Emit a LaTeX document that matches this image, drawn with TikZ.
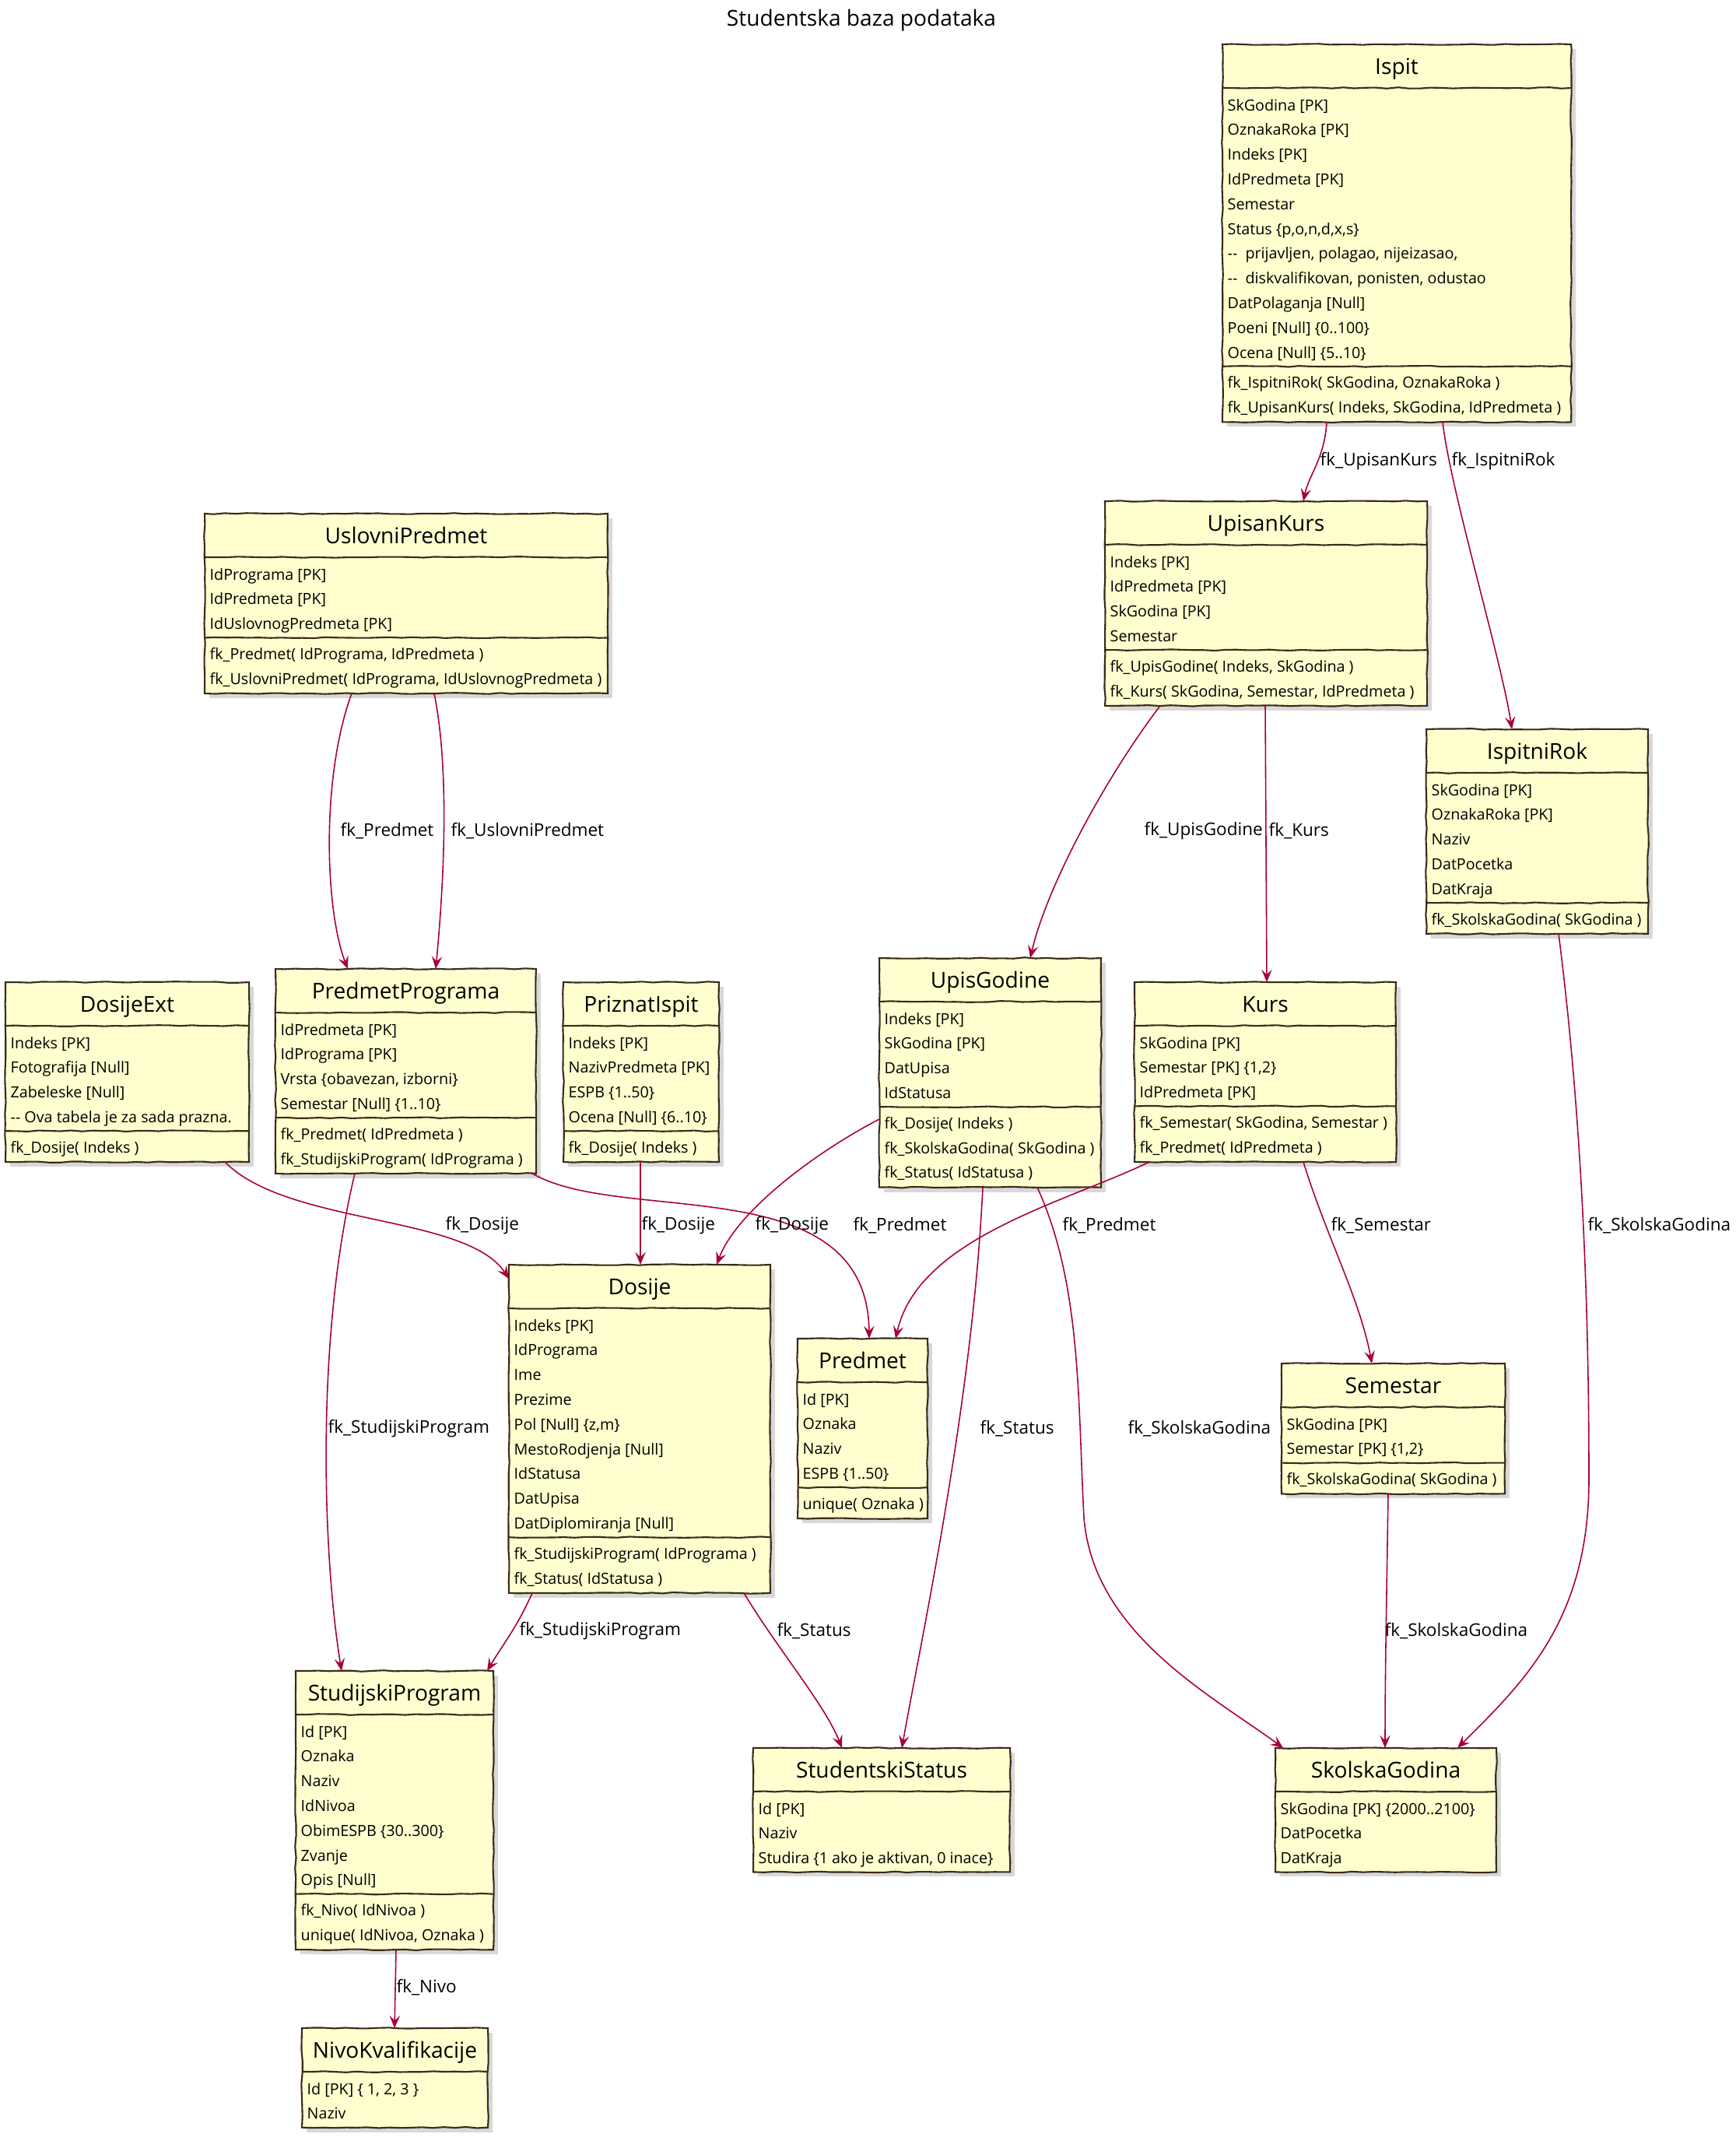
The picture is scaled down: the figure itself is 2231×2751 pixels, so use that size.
\documentclass[tikz,border=0pt]{standalone}
\usepackage{fontspec}
\setmainfont{Open Sans}
\usetikzlibrary{arrows.meta,calc,decorations.pathmorphing}
\definecolor{boxfill}{HTML}{FEFECE}
\definecolor{boxdraw}{HTML}{3A2A1C}
\definecolor{fkc}{HTML}{A80036}
\newcommand\fTitle{\fontsize{8}{9.6}\selectfont}
\newcommand\fField{\fontsize{5.6}{6.7}\selectfont}
\newcommand\fLabel{\fontsize{6.4}{7.7}\selectfont}
\tikzset{
  sketchy/.style={decorate,decoration={random steps,segment length=4pt,amplitude=0.22pt}},
  tbox/.style={draw=boxdraw,fill=boxfill,line width=0.6pt,inner sep=0pt,outer sep=0pt,sketchy},
  tline/.style={draw=boxdraw,line width=0.6pt,sketchy},
  shadowc/.style={fill=black!22,opacity=0.7},
  ttitle/.style={anchor=base,inner sep=0pt,font=\fTitle},
  tfield/.style={anchor=base west,inner sep=0pt,font=\fField},
  fkline/.style={draw=fkc,line width=0.45pt,-{Stealth[length=4.6pt,width=3.8pt,inset=1.8pt]}},
  fklbl/.style={anchor=west,inner sep=0pt,font=\fLabel},
}
% #1 name, #2 left, #3 top, #4 right, #5 nfields, #6 nmethods, #7 title, #8 fields, #9 methods
\newcommand\dbtable[9]{%
  \pgfmathsetmacro\tH{#3+56}%
  \pgfmathsetmacro\tS{\tH+8+#5*31.8}%
  \pgfmathsetmacro\tB{ifthenelse(#6>0,\tS+8+#6*31.8,\tS)}%
  \pgfmathsetmacro\tW{(#4-#2)*0.01}%
  \pgfmathsetmacro\tHt{(\tB-#3)*0.01}%
  \fill[shadowc] (#2+6,#3+6) rectangle (#4+6,\tB+6);
  \node[tbox,minimum width=\tW cm,minimum height=\tHt cm,anchor=north west] (#1) at (#2,#3) {};
  \node[ttitle] (#1-t) at ({(#2+#4)/2},#3+38) {#7};
  \draw[tline] (#2,\tH) -- (#4,\tH);
  \foreach \f [count=\i] in {#8} {\node[tfield] (#1-f\i) at (#2+6,\tH+29+\i*31.8-31.8) {\f};}
  \ifnum#6>0
    \draw[tline] (#2,\tS) -- (#4,\tS);
    \foreach \m [count=\i] in {#9} {\node[tfield] (#1-m\i) at (#2+6,\tS+28+\i*31.8-31.8) {\m};}
  \fi
}
\begin{document}
\begin{tikzpicture}[x=0.01cm,y=-0.01cm]
\pgfmathsetseed{7}
\useasboundingbox (0,0) rectangle (2231,2751);
\node[ttitle] (title) at (1107,33) {Studentska baza podataka};

\dbtable{ispit}{1571}{57}{2019}{11}{2}{Ispit}
 {{SkGodina [PK]},{OznakaRoka [PK]},{Indeks [PK]},{IdPredmeta [PK]},{Semestar},{Status \{p,o,n,d,x,s\}},{{-}{-}\ \ prijavljen, polagao, nijeizasao,},{{-}{-}\ \ diskvalifikovan, ponisten, odustao},{DatPolaganja [Null]},{Poeni [Null] \{0..100\}},{Ocena [Null] \{5..10\}}}
 {{fk\_IspitniRok( SkGodina, OznakaRoka )},{fk\_UpisanKurs( Indeks, SkGodina, IdPredmeta )}}

\dbtable{upk}{1420}{644}{1834}{4}{2}{UpisanKurs}
 {{Indeks [PK]},{IdPredmeta [PK]},{SkGodina [PK]},{Semestar}}
 {{fk\_UpisGodine( Indeks, SkGodina )},{fk\_Kurs( SkGodina, Semestar, IdPredmeta )}}

\dbtable{irok}{1833}{937}{2118}{5}{1}{IspitniRok}
 {{SkGodina [PK]},{OznakaRoka [PK]},{Naziv},{DatPocetka},{DatKraja}}
 {{fk\_SkolskaGodina( SkGodina )}}

\dbtable{uslov}{263}{660}{781}{3}{2}{UslovniPredmet}
 {{IdPrograma [PK]},{IdPredmeta [PK]},{IdUslovnogPredmeta [PK]}}
 {{fk\_Predmet( IdPrograma, IdPredmeta )},{fk\_UslovniPredmet( IdPrograma, IdUslovnogPredmeta )}}

\dbtable{dext}{7}{1262}{320}{4}{1}{DosijeExt}
 {{Indeks [PK]},{Fotografija [Null]},{Zabeleske [Null]},{{-}{-} Ova tabela je za sada prazna.}}
 {{fk\_Dosije( Indeks )}}

\dbtable{pprog}{354}{1245}{689}{4}{2}{PredmetPrograma}
 {{IdPredmeta [PK]},{IdPrograma [PK]},{Vrsta \{obavezan, izborni\}},{Semestar [Null] \{1..10\}}}
 {{fk\_Predmet( IdPredmeta )},{fk\_StudijskiProgram( IdPrograma )}}

\dbtable{priz}{724}{1262}{924}{4}{1}{PriznatIspit}
 {{Indeks [PK]},{NazivPredmeta [PK]},{ESPB \{1..50\}},{Ocena [Null] \{6..10\}}}
 {{fk\_Dosije( Indeks )}}

\dbtable{upg}{1130}{1231}{1415}{4}{3}{UpisGodine}
 {{Indeks [PK]},{SkGodina [PK]},{DatUpisa},{IdStatusa}}
 {{fk\_Dosije( Indeks )},{fk\_SkolskaGodina( SkGodina )},{fk\_Status( IdStatusa )}}

\dbtable{kurs}{1458}{1262}{1794}{3}{2}{Kurs}
 {{SkGodina [PK]},{Semestar [PK] \{1,2\}},{IdPredmeta [PK]}}
 {{fk\_Semestar( SkGodina, Semestar )},{fk\_Predmet( IdPredmeta )}}

\dbtable{dos}{654}{1625}{990}{9}{2}{Dosije}
 {{Indeks [PK]},{IdPrograma},{Ime},{Prezime},{Pol [Null] \{z,m\}},{MestoRodjenja [Null]},{IdStatusa},{DatUpisa},{DatDiplomiranja [Null]}}
 {{fk\_StudijskiProgram( IdPrograma )},{fk\_Status( IdStatusa )}}

\dbtable{pred}{1025}{1720}{1192}{4}{1}{Predmet}
 {{Id [PK]},{Oznaka},{Naziv},{ESPB \{1..50\}}}
 {{unique( Oznaka )}}

\dbtable{sem}{1647}{1752}{1934}{2}{1}{Semestar}
 {{SkGodina [PK]},{Semestar [PK] \{1,2\}}}
 {{fk\_SkolskaGodina( SkGodina )}}

\dbtable{sprog}{380}{2147}{634}{7}{2}{StudijskiProgram}
 {{Id [PK]},{Oznaka},{Naziv},{IdNivoa},{ObimESPB \{30..300\}},{Zvanje},{Opis [Null]}}
 {{fk\_Nivo( IdNivoa )},{unique( IdNivoa, Oznaka )}}

\dbtable{nivo}{388}{2606}{627}{2}{0}{NivoKvalifikacije}
 {{Id [PK] \{ 1, 2, 3 \}},{Naziv}}
 {}

\dbtable{sstat}{968}{2246}{1298}{3}{0}{StudentskiStatus}
 {{Id [PK]},{Naziv},{Studira \{1 ako je aktivan, 0 inace\}}}
 {}

\dbtable{skg}{1639}{2246}{1923}{3}{0}{SkolskaGodina}
 {{SkGodina [PK] \{2000..2100\}},{DatPocetka},{DatKraja}}
 {}

% connectors
\draw[fkline] ($(ispit.south west)+(134,0)$) .. controls (1702,590) and (1682,610) .. ($(upk.north west)+(255,0)$);
\draw[fkline] ($(ispit.south west)+(283,0)$) .. controls (1864,630) and (1930,850) .. ($(irok.north west)+(110,0)$);
\draw[fkline] ($(uslov.south west)+(189,0)$) .. controls (412,1000) and (418,1170) .. ($(pprog.north west)+(93,0)$);
\draw[fkline] ($(uslov.south west)+(295,0)$) .. controls (580,1000) and (568,1160) .. ($(pprog.north west)+(206,0)$);
\draw[fkline] ($(upk.south west)+(71,0)$) .. controls (1420,1000) and (1345,1140) .. ($(upg.north west)+(194,0)$);
\draw[fkline] ($(upk.south west)+(206,0)$) -- ($(kurs.north west)+(170,0)$);
\draw[fkline] ($(irok.south west)+(170,0)$) .. controls (2035,1450) and (2042,1700) .. (2042,1900) .. controls (2042,2080) and (1960,2160) .. ($(skg.north west)+(234,0)$);
\draw[fkline] ($(dext.south west)+(282,0)$) .. controls (370,1575) and (600,1560) .. ($(dos.north west)+(0,18)$);
\draw[fkline] ($(pprog.south west)+(102,0)$) .. controls (405,1720) and (415,2000) .. ($(sprog.north west)+(59,0)$);
\draw[fkline] ($(pprog.south west)+(330,0)$) .. controls (800,1575) and (1115,1500) .. ($(pred.north west)+(92,0)$);
\draw[fkline] ($(priz.south west)+(99,0)$) -- ($(dos.north west)+(169,0)$);
\draw[fkline] ($(upg.north west)+(0,207)$) .. controls (1040,1485) and (945,1560) .. ($(dos.north west)+(267,0)$);
\draw[fkline] ($(kurs.south west)+(19,0)$) .. controls (1370,1545) and (1180,1590) .. ($(pred.north west)+(126,0)$);
\draw[fkline] ($(kurs.south west)+(217,0)$) .. controls (1705,1590) and (1748,1670) .. ($(sem.north west)+(116,0)$);
\draw[fkline] ($(upg.south west)+(133,0)$) .. controls (1250,1800) and (1185,2100) .. ($(sstat.north west)+(191,0)$);
\draw[fkline] ($(upg.south west)+(203,0)$) .. controls (1390,1650) and (1385,1800) .. (1393,1950) .. controls (1405,2100) and (1560,2180) .. ($(skg.north west)+(10,0)$);
\draw[fkline] ($(sem.south west)+(137,0)$) .. controls (1782,2050) and (1780,2150) .. ($(skg.north west)+(141,0)$);
\draw[fkline] ($(dos.south west)+(30,0)$) .. controls (665,2090) and (645,2115) .. ($(sprog.north west)+(246,0)$);
\draw[fkline] ($(dos.south west)+(302,0)$) .. controls (1000,2120) and (1060,2190) .. ($(sstat.north west)+(114,0)$);
\draw[fkline] ($(sprog.south west)+(129,0)$) -- ($(nivo.north west)+(119,0)$);

% labels
\node[fklbl] (l1) at (1696,593) {fk\_UpisanKurs};
\node[fklbl] (l2) at (1865,593) {fk\_IspitniRok};
\node[fklbl] (l3) at (437,1068) {fk\_Predmet};
\node[fklbl] (l4) at (579,1068) {fk\_UslovniPredmet};
\node[fklbl] (l5) at (1470,1068) {fk\_UpisGodine};
\node[fklbl] (l6) at (1630,1068) {fk\_Kurs};
\node[fklbl] (l7) at (2040,1575) {fk\_SkolskaGodina};
\node[fklbl] (l8) at (572,1575) {fk\_Dosije};
\node[fklbl] (l9) at (421,1836) {fk\_StudijskiProgram};
\node[fklbl] (l10) at (1096,1575) {fk\_Predmet};
\node[fklbl] (l11) at (824,1575) {fk\_Dosije};
\node[fklbl] (l12) at (970,1575) {fk\_Dosije};
\node[fklbl] (l13) at (1365,1575) {fk\_Predmet};
\node[fklbl] (l14) at (1710,1575) {fk\_Semestar};
\node[fklbl] (l15) at (1259,1836) {fk\_Status};
\node[fklbl] (l16) at (1449,1836) {fk\_SkolskaGodina};
\node[fklbl] (l17) at (1779,2096) {fk\_SkolskaGodina};
\node[fklbl] (l18) at (667,2096) {fk\_StudijskiProgram};
\node[fklbl] (l19) at (998,2096) {fk\_Status};
\node[fklbl] (l20) at (509,2554) {fk\_Nivo};
\end{tikzpicture}
\end{document}
